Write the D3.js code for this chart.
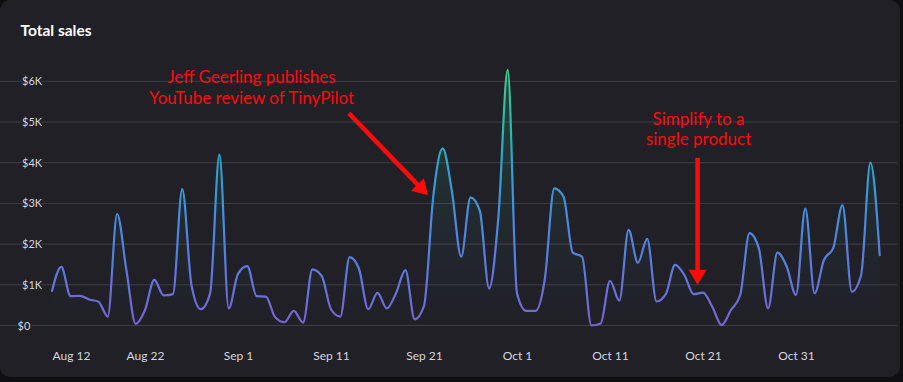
<!DOCTYPE html>
<html>
<head>
<meta charset="utf-8">
<script src="https://cdn.jsdelivr.net/npm/d3@7"></script>
<style>
  html, body { margin: 0; padding: 0; background: #0f0f12; }
  svg { display: block; }
</style>
</head>
<body>
<svg id="chart" width="903" height="382"></svg>
<script>
// ---- data ----
const startDate = "2021-08-12";
const sales = [
  850, 1440, 720, 730, 640, 585, 220, 2740, 1360, 40,
  380, 1120, 740, 770, 3350, 990, 400, 790, 4200, 420,
  1270, 1460, 720, 710, 200, 80, 360, 70, 1380, 1220,
  400, 220, 1680, 1400, 400, 800, 420, 800, 1360, 150,
  480, 3180, 4350, 3300, 1690, 3150, 2820, 910, 2670, 6280,
  790, 360, 360, 1160, 3370, 3170, 1790, 1690, 0, 50,
  1100, 610, 2350, 1540, 2130, 590, 770, 1490, 1240, 770,
  810, 460, 10, 380, 750, 2270, 1900, 420, 1790, 1450,
  750, 2880, 790, 1610, 1900, 2960, 830, 1240, 4000, 1730
];
const yTicks = [0, 1000, 2000, 3000, 4000, 5000, 6000];
const xTickLabels = ["Aug 12", "Aug 22", "Sep 1", "Sep 11", "Sep 21", "Oct 1", "Oct 11", "Oct 21", "Oct 31"];
const title = "Total sales";
const annotations = [
  { lines: ["Jeff Geerling publishes", "YouTube review of TinyPilot"], date: "2021-09-21T10:00", value: 3200 },
  { lines: ["Simplify to a", "single product"], date: "2021-10-20T10:00", value: 1000 }
];

// ---- build ----
const parse = d3.timeParse("%Y-%m-%d");
const t0 = parse(startDate);
const data = sales.map((v, i) => ({ date: d3.timeDay.offset(t0, i), value: v }));
const tickDates = xTickLabels.map((_, i) => d3.timeDay.offset(t0, i * 10));

const svg = d3.select("#chart");
const W = 903, H = 382;
const x = d3.scaleTime().domain([data[0].date, data[data.length - 1].date]).range([52, 879.7]);
const y = d3.scaleLinear().domain([0, 6000]).range([325.5, 81.3]);

// card
svg.append("rect").attr("x", 0).attr("y", 0).attr("width", 900).attr("height", 377)
  .attr("rx", 10).attr("fill", "#202026");

// title
svg.append("text").attr("x", 20.5).attr("y", 35.5).text(title)
  .attr("fill", "#ffffff").attr("font-family", "Lato, sans-serif")
  .attr("font-weight", "bold").attr("font-size", "15.5px");

// gridlines
svg.append("g").selectAll("line").data(yTicks).join("line")
  .attr("x1", 0).attr("x2", 897)
  .attr("y1", d => y(d)).attr("y2", d => y(d))
  .attr("stroke", "#3e3e46").attr("stroke-width", 1);

// y axis labels
const yAxis = d3.axisRight(y).tickValues(yTicks).tickSize(0).tickPadding(0)
  .tickFormat(d => d === 0 ? "$0" : `$${d / 1000}K`);
const gy = svg.append("g").attr("transform", "translate(22,0)").call(yAxis);
gy.select(".domain").remove();
gy.selectAll("text")
  .attr("fill", "#d6d6de").attr("font-family", "Lato, sans-serif").attr("font-size", "11px")
  .attr("x", d => d === 0 ? -4.5 : 0)
  .attr("stroke", "#202026").attr("stroke-width", 3).attr("paint-order", "stroke");

// x axis labels
const xAxis = d3.axisBottom(x).tickValues(tickDates).tickSize(0).tickPadding(0)
  .tickFormat((d, i) => xTickLabels[i]);
const gx = svg.append("g").attr("transform", "translate(0,351.5)").call(xAxis);
gx.select(".domain").remove();
gx.selectAll("text")
  .attr("fill", "#d6d6de").attr("font-family", "Lato, sans-serif").attr("font-size", "12px")
  .attr("text-anchor", (d, i) => i === 0 ? "start" : "middle");

// gradients
const defs = svg.append("defs");
const lg = defs.append("linearGradient").attr("id", "lineGrad")
  .attr("gradientUnits", "userSpaceOnUse")
  .attr("x1", 0).attr("x2", 0).attr("y1", y(0)).attr("y2", y(6300));
[[0, "#7a62d0"], [0.16, "#6474dc"], [0.4, "#4a8ade"], [0.63, "#2fa3cf"], [0.8, "#2fb8a8"], [1, "#40d088"]]
  .forEach(([o, c]) => lg.append("stop").attr("offset", o).attr("stop-color", c));
const ag = defs.append("linearGradient").attr("id", "areaGrad")
  .attr("gradientUnits", "userSpaceOnUse")
  .attr("x1", 0).attr("x2", 0).attr("y1", y(0)).attr("y2", y(6300));
ag.append("stop").attr("offset", 0).attr("stop-color", "#3c7ac8").attr("stop-opacity", 0.0);
ag.append("stop").attr("offset", 0.5).attr("stop-color", "#36a08a").attr("stop-opacity", 0.1);
ag.append("stop").attr("offset", 1).attr("stop-color", "#3cc88a").attr("stop-opacity", 0.22);

const area = d3.area().x(d => x(d.date)).y0(y(0)).y1(d => y(d.value)).curve(d3.curveMonotoneX);
const line = d3.line().x(d => x(d.date)).y(d => y(d.value)).curve(d3.curveMonotoneX);

svg.append("path").datum(data).attr("d", area).attr("fill", "url(#areaGrad)");
svg.append("path").datum(data).attr("d", line).attr("fill", "none")
  .attr("stroke", "url(#lineGrad)").attr("stroke-width", 2.2)
  .attr("stroke-linejoin", "round").attr("stroke-linecap", "round");

// annotations
const red = "#ff0a0a";
function arrow(x0, y0, x1, y1) {
  const dx = x1 - x0, dy = y1 - y0, L = Math.hypot(dx, dy);
  const ux = dx / L, uy = dy / L, hl = 15, hw = 9;
  const bx = x1 - ux * hl, by = y1 - uy * hl;
  svg.append("line").attr("x1", x0).attr("y1", y0).attr("x2", bx + ux * 1).attr("y2", by + uy * 1)
    .attr("stroke", red).attr("stroke-width", 4.5);
  svg.append("path")
    .attr("d", `M${x1},${y1}L${bx - uy * hw},${by + ux * hw}L${bx + uy * hw},${by - ux * hw}Z`)
    .attr("fill", red);
}
const a1 = annotations[0];
const t1x = x(new Date(a1.date)), t1y = y(a1.value);
arrow(t1x - 79, t1y - 82, t1x, t1y);
svg.append("g").selectAll("text").data(a1.lines).join("text")
  .attr("x", 251.5).attr("y", (d, i) => 82.5 + i * 21.5)
  .attr("text-anchor", "middle").attr("fill", red)
  .attr("font-family", "Lato, sans-serif").attr("font-size", "17px").text(d => d);

const a2 = annotations[1];
const t2x = x(new Date(a2.date)), t2y = y(a2.value);
arrow(t2x, t2y - 127, t2x, t2y);
svg.append("g").selectAll("text").data(a2.lines).join("text")
  .attr("x", t2x + 1).attr("y", (d, i) => 125 + i * 20)
  .attr("text-anchor", "middle").attr("fill", red)
  .attr("font-family", "Lato, sans-serif").attr("font-size", "17px").text(d => d);
</script>
</body>
</html>
